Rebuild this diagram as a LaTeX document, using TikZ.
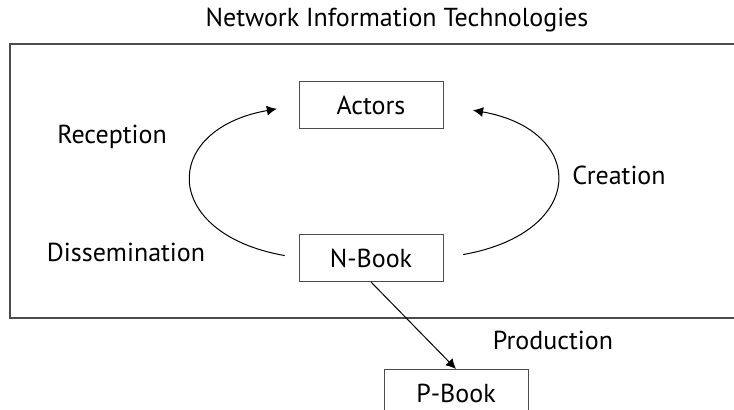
\documentclass[tikz,border=0pt]{standalone}
\usepackage{fontspec}
\setmainfont{PT Sans}
\usetikzlibrary{arrows.meta,positioning}

\begin{document}
\begin{tikzpicture}[x=0.5pt, y=-0.5pt, node distance=52.5pt, >={Latex[length=5pt,width=5pt]},
    every node/.style={font=\fontsize{13}{15}\selectfont},
    book/.style={rectangle, draw=black!70, line width=0.5pt, minimum width=72pt, minimum height=23.5pt, inner sep=0pt},
    flow/.style={->, line width=0.5pt}]
    \clip (0,0) rectangle (734,409);
    \node (title) at (397,20) {Network Information Technologies};
    \draw [draw=black!70, line width=0.6pt] (734,44) -- (10,44) -- (10,318) -- (734,318);
    \node [book] (actors) at (371,105) {Actors};
    \node [book, below=of actors] (nbook) {N-Book};
    \node [book, below=43.5pt of nbook, xshift=42.5pt] (pbook) {P-Book};
    
    \node (reception) at (112,137) {Reception};
    \node (dissemination) at (126,252) {Dissemination};
    \node (creation) at (619,175) {Creation};
    \node (production) at (553,340) {Production};
    
    \draw [flow, shorten <=7pt, shorten >=11pt] (nbook.west) to [out=170, in=190, looseness=2.35] (actors.west);
    \draw [flow, shorten <=10pt, shorten >=15pt] (nbook.east) to [out=10, in=-10, looseness=2.45] (actors.east);
    \draw [flow] (nbook.south) -- (pbook.north);
\end{tikzpicture}
\end{document}
